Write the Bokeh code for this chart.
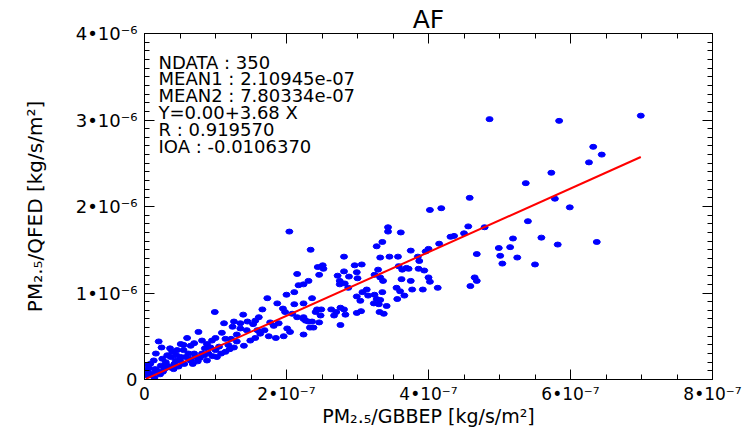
import numpy as np
from bokeh.plotting import figure
from bokeh.models import (LinearAxis, SingleIntervalTicker, CustomJSTickFormatter,
                          Label, ColumnDataSource, Range1d)
from bokeh.embed import file_html
from bokeh.resources import INLINE

# ---- data (GBBEP in 1e-7 kg/s/m2, QFED in 1e-6 kg/s/m2) ----
gbbep_1e7 = [
    4.86, 5.84, 6.99, 6.32, 6.44, 6.26, 5.73, 5.37, 4.58, 5.78, 5.99, 5.40, 4.56, 4.79, 4.50,
    5.19, 5.59, 6.37, 4.99, 5.15, 5.82, 4.68, 5.01, 5.25, 5.04, 5.50, 4.65, 4.68, 4.59,
    4.02, 4.18, 3.43, 3.43, 3.61, 4.36, 4.31, 4.15, 4.00, 3.96, 3.35, 3.27, 3.75, 2.34, 2.81,
    3.32, 3.45, 3.57, 3.85, 3.87, 3.06, 2.96, 2.51, 2.44, 3.58, 2.52, 2.81, 2.99, 3.29, 3.24,
    3.69, 3.63, 3.72, 3.86, 3.94, 2.46, 2.72, 2.88, 3.00, 2.75, 3.32, 3.36, 3.62, 3.75, 4.00,
    4.02, 2.31, 2.24, 2.75, 2.82, 2.87, 3.13, 3.07, 3.15, 3.24, 3.35, 3.55, 3.60, 3.77, 3.92,
    4.13, 3.27, 3.56, 3.66, 2.99, 3.32, 3.04, 2.36, 2.24, 2.43, 2.49, 2.63, 2.76, 2.81, 2.70,
    2.67, 2.83, 2.99, 3.05, 3.30, 3.41, 3.31, 3.37, 3.23, 2.24, 2.27, 2.36, 2.46, 2.33, 2.24,
    2.76, 2.48,
    2.15, 2.17, 2.11, 2.00, 1.73, 1.87, 2.11, 0.99, 1.66, 1.39, 1.95, 1.98, 2.08, 2.15, 2.24,
    2.31, 2.41, 2.38, 1.61, 1.56, 1.53, 1.45, 1.35, 1.26, 1.12, 1.24, 1.35, 1.44, 1.59, 1.69,
    1.82, 1.89, 1.77, 2.01, 2.05, 1.96, 1.85, 1.75, 1.63, 1.56, 1.49, 1.40, 1.26, 1.09, 1.14,
    1.00, 0.95, 0.88, 0.81, 0.76, 0.60, 0.51, 0.65, 0.55, 0.62, 0.46, 0.39, 0.32, 0.25, 0.37,
    0.51, 0.44, 0.23, 0.15, 0.08, 0.04, 0.11, 0.20, 0.24, 0.75, 0.88, 0.65, 1.02, 1.00, 1.14,
    0.81, 0.41, 0.32, 0.13, 0.05, 2.04,
    0.10, 0.18, 0.22, 0.28, 0.30, 0.35, 0.42, 0.48, 0.50, 0.56, 0.58, 0.63, 0.68, 0.70, 0.72,
    0.78, 0.84, 0.90, 0.93, 0.96, 1.05, 1.08, 1.18, 1.20, 1.30, 0.06, 0.02, 0.14, 0.26, 0.45,
    0.55, 0.70, 0.85, 1.22, 1.30, 0.36, 0.16,
]
qfed_1e6 = [
    3.01, 2.99, 3.05, 2.69, 2.60, 2.51, 2.39, 2.27, 2.10, 2.09, 1.99, 1.83, 1.77, 1.76, 1.69,
    1.63, 1.64, 1.59, 1.52, 1.53, 1.56, 1.45, 1.43, 1.41, 1.34, 1.33, 1.18, 1.14, 1.08,
    1.96, 1.98, 1.76, 1.71, 1.70, 1.66, 1.65, 1.57, 1.51, 1.48, 1.59, 1.54, 1.49, 1.50, 1.42,
    1.41, 1.42, 1.42, 1.42, 1.37, 1.33, 1.32, 1.32, 1.30, 1.31, 1.28, 1.25, 1.24, 1.27, 1.21,
    1.29, 1.27, 1.28, 1.28, 1.26, 1.21, 1.20, 1.19, 1.17, 1.14, 1.18, 1.14, 1.16, 1.14, 1.18,
    1.13, 1.14, 1.10, 1.10, 1.11, 1.06, 1.04, 1.01, 0.97, 0.98, 1.01, 1.06, 1.02, 1.04, 1.04,
    1.06, 0.93, 0.93, 0.97, 0.96, 0.92, 0.91, 0.94, 0.88, 0.81, 0.81, 0.81, 0.83, 0.81, 0.78,
    0.74, 0.75, 0.77, 0.79, 0.87, 0.85, 0.78, 0.76, 0.88, 0.72, 0.68, 0.67, 0.66, 0.60, 0.52,
    0.63, 0.74,
    1.22, 1.09, 1.01, 0.98, 0.94, 0.88, 0.87, 0.78, 0.81, 0.75, 0.82, 0.78, 0.76, 0.72, 0.70,
    0.67, 0.78, 0.60, 0.72, 0.68, 0.64, 0.67, 0.65, 0.67, 0.65, 0.61, 0.59, 0.57, 0.57, 0.57,
    0.62, 0.65, 0.66, 0.59, 0.55, 0.50, 0.48, 0.50, 0.53, 0.48, 0.45, 0.39, 0.37, 0.54, 0.47,
    0.48, 0.45, 0.41, 0.45, 0.55, 0.48, 0.41, 0.39, 0.34, 0.30, 0.34, 0.32, 0.28, 0.24, 0.26,
    0.26, 0.22, 0.16, 0.12, 0.18, 0.10, 0.07, 0.44, 0.37, 0.21, 0.22, 0.22, 0.26, 0.34, 0.32,
    0.30, 0.12, 0.16, 0.22, 0.17, 1.71,
    0.05, 0.10, 0.06, 0.12, 0.20, 0.14, 0.18, 0.15, 0.22, 0.18, 0.26, 0.24, 0.18, 0.30, 0.26,
    0.25, 0.28, 0.30, 0.37, 0.27, 0.38, 0.30, 0.40, 0.35, 0.44, 0.13, 0.05, 0.02, 0.09, 0.28,
    0.40, 0.42, 0.36, 0.47, 0.52, 0.36, 0.30,
]

fit_intercept = 0.00
fit_slope = 3.68

stats_lines = [
    "NDATA : 350",
    "MEAN1 : 2.10945e-07",
    "MEAN2 : 7.80334e-07",
    "Y=0.00+3.68 X",
    "R : 0.919570",
    "IOA : -0.0106370",
]

title_text = "AF"
x_label = "PM₂.₅/GBBEP [kg/s/m²]"
y_label = "PM₂.₅/QFED [kg/s/m²]"
x_tick_labels = ["0", "2•10⁻⁷", "4•10⁻⁷", "6•10⁻⁷", "8•10⁻⁷"]
y_tick_labels = ["0", "1•10⁻⁶", "2•10⁻⁶", "3•10⁻⁶", "4•10⁻⁶"]
x_step = 2e-7
y_step = 1e-6

x = np.array(gbbep_1e7) * 1e-7
y = np.array(qfed_1e6) * 1e-6

FONT = "DejaVu Sans"

p = figure(width=746, height=431, output_backend="svg", toolbar_location=None,
           x_range=Range1d(0, 8e-7), y_range=Range1d(0, 4e-6),
           min_border_left=144, min_border_right=34, min_border_top=33,
           min_border_bottom=52, x_axis_location=None, y_axis_location=None)
p.xgrid.visible = False
p.ygrid.visible = False
p.outline_line_color = "black"
p.background_fill_color = "white"
p.border_fill_color = "white"

p.title.text = title_text
p.title.align = "center"
p.title.text_font = FONT
p.title.text_font_size = "25px"
p.title.text_font_style = "normal"
p.title.text_color = "black"
p.title.standoff = 0


def make_axis(step, nminor, labels, show):
    ticker = SingleIntervalTicker(interval=step, num_minor_ticks=nminor)
    if show:
        fmt = CustomJSTickFormatter(args=dict(labels=labels, step=step),
                                    code="const k = Math.round(tick/step); return (k>=0 && k<labels.length) ? labels[k] : '';")
    else:
        fmt = CustomJSTickFormatter(code="return '';")
    ax = LinearAxis(ticker=ticker, formatter=fmt)
    ax.major_tick_in = 10
    ax.major_tick_out = 0
    ax.minor_tick_in = 5
    ax.minor_tick_out = 0
    ax.axis_line_color = "black"
    ax.major_tick_line_color = "black"
    ax.minor_tick_line_color = "black"
    ax.major_label_text_font = FONT
    ax.major_label_text_color = "black"
    ax.axis_label_text_font = FONT
    ax.axis_label_text_color = "black"
    ax.axis_label_text_font_style = "normal"
    if not show:
        ax.major_label_text_font_size = "0px"
        ax.major_label_standoff = 0
    return ax


xb = make_axis(x_step, 4, x_tick_labels, True)
xb.major_label_text_font_size = "17px"
xb.major_label_standoff = 4
xb.axis_label = x_label
xb.axis_label_text_font_size = "19px"
xb.axis_label_standoff = -2
p.add_layout(xb, "below")

yl = make_axis(y_step, 10, y_tick_labels, True)
yl.major_label_text_font_size = "18px"
yl.major_label_standoff = 7
yl.axis_label = y_label
yl.axis_label_text_font_size = "20px"
yl.axis_label_standoff = 26
p.add_layout(yl, "left")

xt = make_axis(x_step, 4, x_tick_labels, False)
p.add_layout(xt, "above")
yr = make_axis(y_step, 10, y_tick_labels, False)
p.add_layout(yr, "right")

src = ColumnDataSource(dict(x=x, y=y))
p.ellipse(x="x", y="y", width=7, height=5, width_units="screen", height_units="screen",
          source=src, fill_color="#0000ff", line_color="#0000ff")

xfit = np.array([x.min(), x.max()])
p.line(xfit, fit_intercept * 1e-6 + fit_slope * xfit, line_color="#ff0000", line_width=2)

stats_x = 0.197e-7
stats_y0 = 3.668e-6
stats_dy = 0.194e-6
for i, t in enumerate(stats_lines):
    p.add_layout(Label(x=stats_x, y=stats_y0 - i * stats_dy, text=t, text_font=FONT,
                       text_font_size="18px", text_baseline="middle", text_color="black"))

open("out.html", "w").write(file_html(p, INLINE))
